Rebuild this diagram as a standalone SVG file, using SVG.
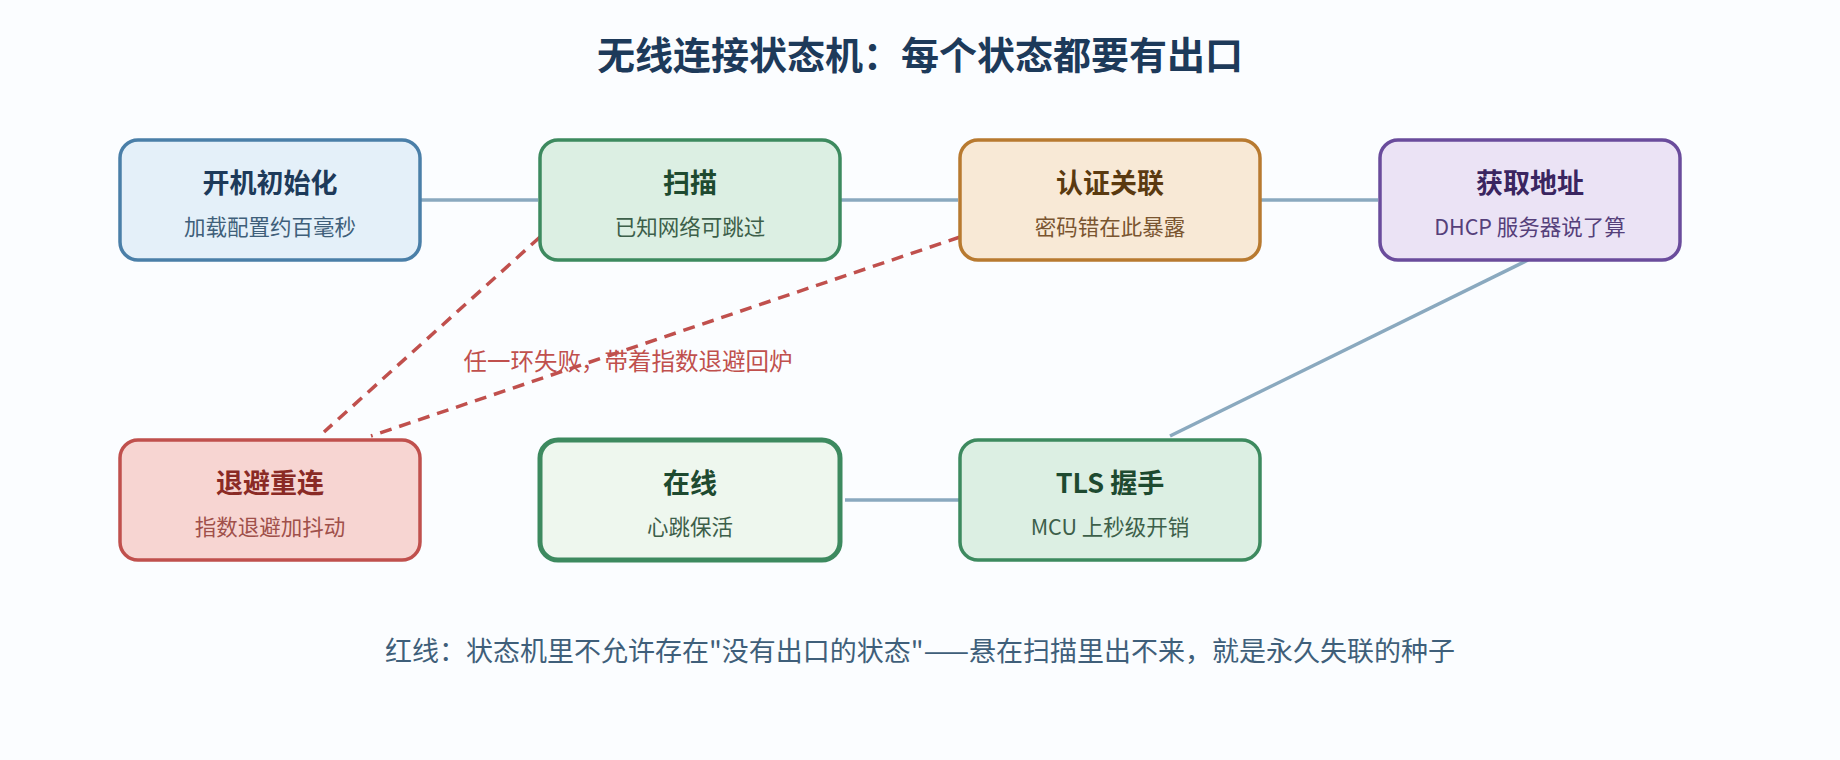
<svg xmlns="http://www.w3.org/2000/svg" width="1840" height="760" viewBox="0 0 1840 760">
<style>
text{font-family:"Noto Sans CJK SC","Noto Sans",sans-serif;text-anchor:middle}
.t{font-size:27px;font-weight:bold}
.s{font-size:21.5px}
.c{stroke:#8aa9bf;stroke-width:3.5;fill:none}
.d{stroke:#c0504d;stroke-width:3.5;fill:none;stroke-dasharray:12 8}
</style>
<rect width="1840" height="760" fill="#fbfdff"/>
<text x="920" y="69" style="font-size:38px;font-weight:bold" fill="#1d3a5a">无线连接状态机：每个状态都要有出口</text>
<g id="connectors">
<line class="c" x1="420" y1="200" x2="538" y2="200"/>
<line class="c" x1="840" y1="200" x2="958" y2="200"/>
<line class="c" x1="1260" y1="200" x2="1378" y2="200"/>
<line class="c" x1="1528" y1="260" x2="1170" y2="436"/>
<line class="c" x1="845" y1="500" x2="960" y2="500"/>
<line class="d" x1="540" y1="237" x2="324" y2="432"/>
<line class="d" x1="960" y1="237" x2="371" y2="436"/>
<text x="628" y="370" style="font-size:23.5px" fill="#c0504d">任一环失败，带着指数退避回炉</text>
</g>
<g id="init"><rect x="120" y="140" width="300" height="120" rx="18" fill="#e4f0f9" stroke="#4a7fa8" stroke-width="3.5"/><text x="270" y="193" class="t" fill="#1d3a5a">开机初始化</text><text x="270" y="235" class="s" fill="#3f5f7a">加载配置约百毫秒</text></g>
<g id="scan"><rect x="540" y="140" width="300" height="120" rx="18" fill="#dcefe3" stroke="#3d8a5f" stroke-width="3.5"/><text x="690" y="193" class="t" fill="#1e4a30">扫描</text><text x="690" y="235" class="s" fill="#3d5f4a">已知网络可跳过</text></g>
<g id="auth"><rect x="960" y="140" width="300" height="120" rx="18" fill="#f8e9d6" stroke="#b87a30" stroke-width="3.5"/><text x="1110" y="193" class="t" fill="#5a3a10">认证关联</text><text x="1110" y="235" class="s" fill="#7a5530">密码错在此暴露</text></g>
<g id="dhcp"><rect x="1380" y="140" width="300" height="120" rx="18" fill="#ebe3f5" stroke="#6a4c9c" stroke-width="3.5"/><text x="1530" y="193" class="t" fill="#3a2560">获取地址</text><text x="1530" y="235" class="s" fill="#55407a">DHCP 服务器说了算</text></g>
<g id="backoff"><rect x="120" y="440" width="300" height="120" rx="18" fill="#f7d5d2" stroke="#c0504d" stroke-width="3.5"/><text x="270" y="493" class="t" fill="#8a2a25">退避重连</text><text x="270" y="535" class="s" fill="#a0504a">指数退避加抖动</text></g>
<g id="online"><rect x="540" y="440" width="300" height="120" rx="18" fill="#eef7ee" stroke="#3d8a5f" stroke-width="5"/><text x="690" y="493" class="t" fill="#1e4a30">在线</text><text x="690" y="535" class="s" fill="#3d5f4a">心跳保活</text></g>
<g id="tls"><rect x="960" y="440" width="300" height="120" rx="18" fill="#dcefe3" stroke="#3d8a5f" stroke-width="3.5"/><text x="1110" y="493" class="t" fill="#1e4a30">TLS 握手</text><text x="1110" y="535" class="s" fill="#3d5f4a">MCU 上秒级开销</text></g>
<text x="920" y="661" style="font-size:27px" fill="#3f5f7a">红线：状态机里不允许存在"没有出口的状态"——悬在扫描里出不来，就是永久失联的种子</text>
</svg>
